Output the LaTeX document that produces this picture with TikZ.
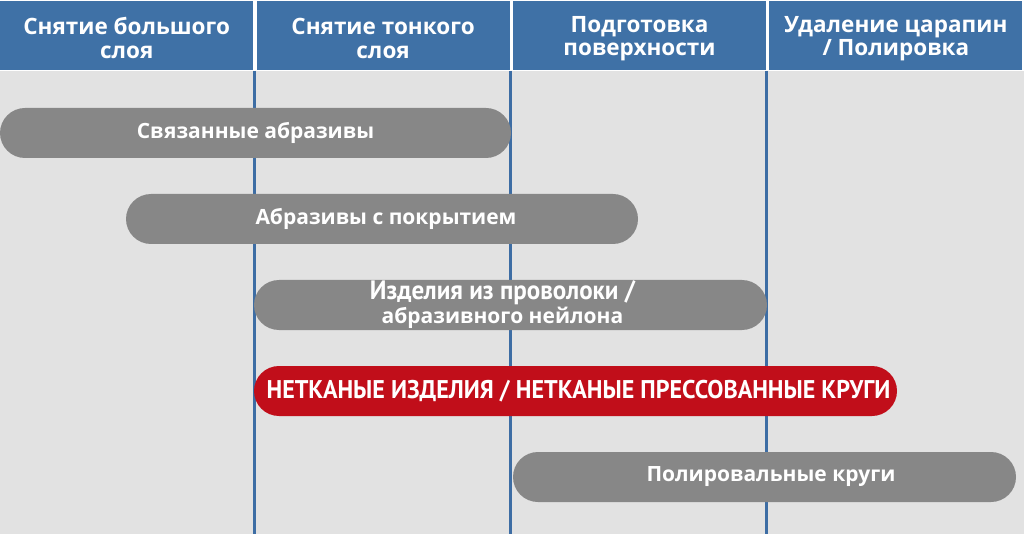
\documentclass[tikz,border=0pt]{standalone}
\usepackage{fontspec}
\setmainfont{Open Sans}
\newfontfamily\narrowfont[FakeStretch=0.94]{PT Sans}
\usetikzlibrary{positioning}
\definecolor{headblue}{HTML}{3F71A6}
\definecolor{lineblue}{HTML}{3D6DA4}
\definecolor{bodygray}{HTML}{E2E2E2}
\definecolor{bargray}{HTML}{878787}
\definecolor{barred}{HTML}{C10E1A}
\newcommand{\headstrut}{\rule{0pt}{22pt}}
\tikzset{
    header/.style={fill=headblue, text=white, inner sep=0pt, minimum width=253pt, minimum height=69pt, align=center, font=\bfseries\fontsize{22.5}{23.5}\selectfont}, % Column titles
    bar/.style={fill=bargray, text=white, inner sep=0pt, minimum height=50pt, rounded corners=25pt, align=center, font=\bfseries\fontsize{21}{24}\selectfont}, % Range bars
    colline/.style={draw=lineblue, line width=3pt}, % Column borders
}

\begin{document}
\begin{tikzpicture}[x=1pt, y=-1pt, node distance=3pt]
    \useasboundingbox (0,0) rectangle (1024,534);
    \fill[white] (0,0) rectangle (1024,534);
    \fill[bodygray] (0,71) rectangle (1024,534);

    % --- Header ---
    \node[header, anchor=north west] (rough) at (0,1) {\headstrut Снятие большого\\слоя};
    \node[header] (fine) [right=of rough] {\headstrut Снятие тонкого\\слоя};
    \node[header] (prep) [right=of fine] {\headstrut Подготовка\\поверхности};
    \node[header] (polish) [right=of prep] {\headstrut Удаление царапин\\/ Полировка};

    % --- Column borders ---
    \draw[colline] (254.5,71) -- (254.5,534);
    \draw[colline] (510.5,71) -- (510.5,534);
    \draw[colline] (766.5,71) -- (766.5,534);

    % --- Bars ---
    \node[bar, minimum width=511pt] (bonded) at (255.5,133) {Связанные абразивы};
    \node[bar, minimum width=512pt] (coated) at (382,219) {\hspace*{8pt}Абразивы с покрытием};
    \node[bar, minimum width=513pt] (wire) at (510.5,305)
        {\narrowfont\fontsize{26.6}{21}\selectfont\hspace*{-16pt}Изделия из проволоки /\\\hspace*{-16pt}абразивного нейлона};
    \node[bar, fill=barred, minimum width=643pt] (nonwoven) at (575.5,391)
        {\narrowfont\fontsize{25.6}{26}\selectfont\hspace*{6pt}НЕТКАНЫЕ ИЗДЕЛИЯ / НЕТКАНЫЕ ПРЕССОВАННЫЕ КРУГИ};
    \node[bar, minimum width=503pt] (buffs) at (764.5,477) {\hspace*{13pt}Полировальные круги};

\end{tikzpicture}
\end{document}
